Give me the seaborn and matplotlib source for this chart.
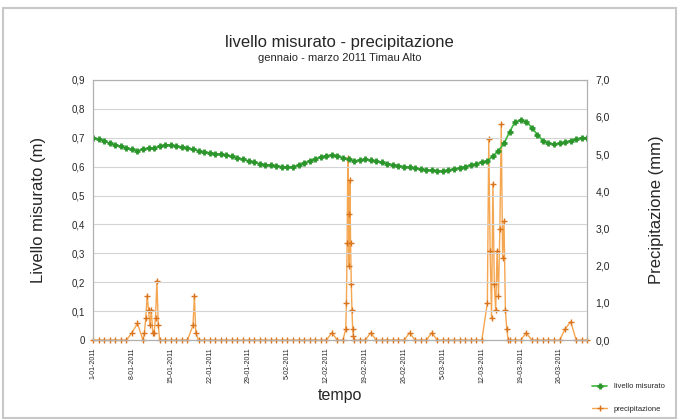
import pandas as pd
import matplotlib
matplotlib.use("Agg")
import matplotlib.pyplot as plt
from matplotlib.ticker import FuncFormatter, MultipleLocator
from matplotlib.patches import Rectangle
import seaborn as sns

# livello misurato (m), one value per day, 1 Jan - 31 Mar 2011
livello = [
    0.70, 0.695, 0.69, 0.68, 0.675, 0.67, 0.665,
    0.66, 0.655, 0.66, 0.665, 0.665, 0.67, 0.675,
    0.675, 0.67, 0.668, 0.665, 0.66, 0.655, 0.65,
    0.648, 0.645, 0.642, 0.64, 0.635, 0.63, 0.625,
    0.62, 0.615, 0.61, 0.607, 0.605, 0.603, 0.60,
    0.598, 0.60, 0.605, 0.612, 0.62, 0.627, 0.633,
    0.638, 0.64, 0.638, 0.63, 0.625, 0.62, 0.622,
    0.625, 0.622, 0.618, 0.615, 0.61, 0.607, 0.603,
    0.60, 0.597, 0.594, 0.591, 0.589, 0.587, 0.585,
    0.585, 0.588, 0.592, 0.596, 0.60, 0.605, 0.61,
    0.615, 0.62, 0.635, 0.655, 0.68, 0.72, 0.755,
    0.76, 0.755, 0.735, 0.71, 0.69, 0.68, 0.678,
    0.68, 0.685, 0.69, 0.695, 0.70, 0.70,
]

# precipitazione giornaliera (mm)
pioggia_giorno = [
    0, 0, 0, 0, 0, 0, 0, 0.2, 0.45, 0, 0, 0, 0, 0,
    0, 0, 0, 0, 0, 0, 0, 0, 0, 0, 0, 0, 0, 0,
    0, 0, 0, 0, 0, 0, 0, 0, 0, 0, 0, 0, 0, 0,
    0, 0.2, 0, 0, 0, 0, 0, 0, 0.2, 0, 0, 0, 0, 0,
    0, 0.2, 0, 0, 0, 0.2, 0, 0, 0, 0, 0, 0, 0, 0,
    0, 0, 0, 0, 0, 0, 0, 0, 0.2, 0, 0, 0, 0, 0,
    0, 0.3, 0.5, 0, 0, 0,
]

# eventi piovosi, dettaglio orario
eventi_ora = [
    "2011-01-10 00:00", "2011-01-10 06:00", "2011-01-10 12:00", "2011-01-10 18:00",
    "2011-01-11 00:00", "2011-01-11 06:00", "2011-01-11 12:00", "2011-01-11 18:00",
    "2011-01-12 00:00", "2011-01-12 06:00", "2011-01-12 12:00", "2011-01-12 18:00",
    "2011-01-19 00:00", "2011-01-19 06:00", "2011-01-19 12:00",
    "2011-02-15 12:00", "2011-02-15 15:00", "2011-02-15 18:00", "2011-02-15 21:00",
    "2011-02-16 00:00", "2011-02-16 03:00", "2011-02-16 06:00", "2011-02-16 09:00",
    "2011-02-16 12:00", "2011-02-16 15:00", "2011-02-16 18:00", "2011-02-16 21:00",
    "2011-03-13 00:00", "2011-03-13 06:00", "2011-03-13 12:00", "2011-03-13 18:00",
    "2011-03-14 00:00", "2011-03-14 06:00", "2011-03-14 12:00", "2011-03-14 18:00",
    "2011-03-15 00:00", "2011-03-15 06:00", "2011-03-15 12:00", "2011-03-15 18:00",
    "2011-03-16 00:00", "2011-03-16 06:00", "2011-03-16 12:00", "2011-03-16 18:00",
]
eventi_mm = [
    0.0, 0.2, 0.6, 1.2,
    0.8, 0.4, 0.8, 0.2,
    0.2, 0.6, 1.6, 0.4,
    0.4, 1.2, 0.2,
    0.3, 1.0, 2.6, 4.9,
    3.4, 2.0, 4.3, 2.6,
    1.5, 0.8, 0.3, 0.1,
    1.0, 5.4, 2.4, 0.6,
    4.2, 1.5, 0.8, 2.4,
    1.2, 3.0, 5.8, 2.2,
    3.2, 0.8, 0.3, 0.0,
]

date = pd.date_range("2011-01-01", periods=len(livello), freq="D")
df_liv = pd.DataFrame({"data": date, "livello": livello})
prec = pd.concat([
    pd.Series(pioggia_giorno, index=date),
    pd.Series(eventi_mm, index=pd.to_datetime(eventi_ora)),
]).groupby(level=0).max().sort_index()
df_prec = pd.DataFrame({"data": prec.index, "pioggia": prec.values})

sns.set_style("white")
plt.rcParams["font.family"] = ["Liberation Sans", "DejaVu Sans"]

fig = plt.figure(figsize=(6.79, 4.20), dpi=100)
fig.patches.append(Rectangle((0.004, 0.005), 0.992, 0.975, transform=fig.transFigure,
                             fill=False, edgecolor="#c8c8c8", lw=1.5))
ax = fig.add_axes([0.137, 0.19, 0.728, 0.62])
ax2 = ax.twinx()

ax.grid(axis="y", color="#d4d4d4", lw=0.8)
ax.set_axisbelow(True)

sns.lineplot(data=df_prec, x="data", y="pioggia", ax=ax2, color="#f5a650", lw=1.0,
             marker="+", markersize=4, markeredgewidth=1.0, markeredgecolor="#d9741c",
             label="precipitazione", legend=False, clip_on=False)
sns.lineplot(data=df_liv, x="data", y="livello", ax=ax, color="#3cb83c", lw=1.2,
             marker="+", markersize=5, markeredgewidth=2.0, markeredgecolor="#2c962c",
             label="livello misurato", legend=False)
ax.set_zorder(ax2.get_zorder() + 1)
ax.patch.set_visible(False)

ax.set_xlim(pd.Timestamp("2011-01-01"), pd.Timestamp("2011-03-31"))
ax.set_ylim(0, 0.9)
ax2.set_ylim(0, 7)
ax.yaxis.set_major_locator(MultipleLocator(0.1))
ax2.yaxis.set_major_locator(MultipleLocator(1))
ax.yaxis.set_major_formatter(FuncFormatter(lambda v, p: "0" if abs(v) < 1e-9 else f"{v:.1f}".replace(".", ",")))
ax2.yaxis.set_major_formatter(FuncFormatter(lambda v, p: f"{v:.1f}".replace(".", ",")))

tick_dates = pd.date_range("2011-01-01", "2011-03-31", freq="7D")
ax.set_xticks(tick_dates)
ax.set_xticklabels([f"{d.day}-{d.month:02d}-{d.year}" for d in tick_dates],
                   rotation=90, fontsize=5)
ax.tick_params(axis="y", labelsize=7, length=0, pad=6)
ax2.tick_params(axis="y", labelsize=7.5, length=0, pad=6)
ax.tick_params(axis="x", length=2, pad=3)

for a in (ax, ax2):
    for s in a.spines.values():
        s.set_color("#b0b0b0")
        s.set_linewidth(0.8)

ax.set_xlabel("tempo", fontsize=11.5, labelpad=4)
ax.set_ylabel("Livello misurato (m)", fontsize=12, labelpad=18)
ax2.set_ylabel("Precipitazione (mm)", fontsize=12, labelpad=28)

fig.text(0.5, 0.9, "livello misurato - precipitazione", ha="center", va="center", fontsize=12)
fig.text(0.5, 0.862, "gennaio - marzo 2011 Timau Alto", ha="center", va="center", fontsize=8)

h1, l1 = ax.get_legend_handles_labels()
h2, l2 = ax2.get_legend_handles_labels()
fig.legend(h1 + h2, l1 + l2, loc="lower left", bbox_to_anchor=(0.862, 0.0),
           fontsize=5.5, frameon=False, handlelength=2.0, labelspacing=2.0)

fig.savefig("out.png", dpi=100)
